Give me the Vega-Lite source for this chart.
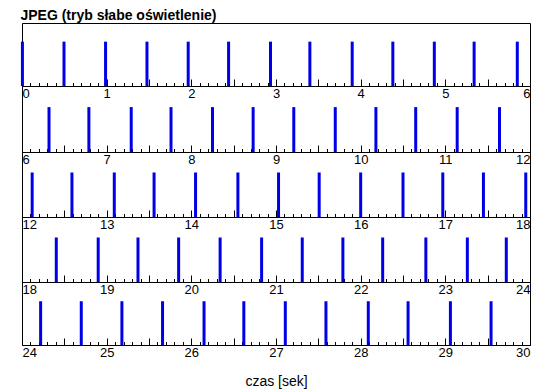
{
  "$schema": "https://vega.github.io/schema/vega-lite/v6.json",
  "padding": {"left": 20, "top": 8, "right": 10, "bottom": 5},
  "background": "white",
  "title": {"text": "JPEG (tryb słabe oświetlenie)", "anchor": "start", "font": "Liberation Sans", "fontSize": 14, "fontWeight": "bold", "color": "black", "offset": 0},
  "datasets": {
    "frames": [
      {"t": 0.005}, {"t": 0.496}, {"t": 0.987}, {"t": 1.476}, {"t": 1.963}, {"t": 2.44}, {"t": 2.935}, {"t": 3.40}, {"t": 3.90}, {"t": 4.38}, {"t": 4.87}, {"t": 5.34}, {"t": 5.85},
      {"t": 6.319}, {"t": 6.79}, {"t": 7.29}, {"t": 7.76}, {"t": 8.25}, {"t": 8.73}, {"t": 9.21}, {"t": 9.70}, {"t": 10.18}, {"t": 10.65}, {"t": 11.14}, {"t": 11.64},
      {"t": 12.12}, {"t": 12.59}, {"t": 13.09}, {"t": 13.56}, {"t": 14.05}, {"t": 14.55}, {"t": 15.03}, {"t": 15.51}, {"t": 16.00}, {"t": 16.50}, {"t": 16.97}, {"t": 17.45}, {"t": 17.95},
      {"t": 18.405}, {"t": 18.90}, {"t": 19.37}, {"t": 19.85}, {"t": 20.34}, {"t": 20.83}, {"t": 21.31}, {"t": 21.79}, {"t": 22.26}, {"t": 22.77}, {"t": 23.26}, {"t": 23.72},
      {"t": 24.22}, {"t": 24.70}, {"t": 25.18}, {"t": 25.66}, {"t": 26.15}, {"t": 26.62}, {"t": 27.11}, {"t": 27.59}, {"t": 28.09}, {"t": 28.56}, {"t": 29.06}, {"t": 29.54}
    ]
  },
  "data": {"name": "frames"},
  "spacing": 0,
  "bounds": "flush",
  "config": {
    "view": {"stroke": "black", "strokeWidth": 1},
    "axis": {"grid": false, "labelFont": "Liberation Sans", "labelFontSize": 13, "labelColor": "black", "domainColor": "black", "tickColor": "black", "titleFont": "Liberation Sans", "titleFontSize": 14, "titleFontWeight": "normal", "titleColor": "black"}
  },
  "vconcat": [
    {
      "width": 508, "height": 63,
      "transform": [{"filter": "datum.t >= 0 && datum.t < 6"}],
      "mark": {"type": "rule", "strokeWidth": 3, "color": "#0000e6"},
      "encoding": {
        "x": {"field": "t", "type": "quantitative", "scale": {"domain": [0, 6], "nice": false, "zero": false},
          "axis": {"title": null, "tickCount": 60, "labelFlush": true, "labelOverlap": false, "labelPadding": 8,
            "labelExpr": "abs(datum.value - round(datum.value)) < 0.001 ? toString(round(datum.value)) : ''",
            "tickSize": {"condition": {"test": "abs(datum.value*2 - round(datum.value*2)) < 0.001", "value": -7}, "value": -3.5}}},
        "y": {"datum": 0, "type": "quantitative", "scale": {"domain": [0, 1.42]}, "axis": null},
        "y2": {"datum": 1}
      }
    },
    {
      "width": 508, "height": 66,
      "transform": [{"filter": "datum.t >= 6 && datum.t < 12"}],
      "mark": {"type": "rule", "strokeWidth": 3, "color": "#0000e6"},
      "encoding": {
        "x": {"field": "t", "type": "quantitative", "scale": {"domain": [6, 12], "nice": false, "zero": false},
          "axis": {"title": null, "tickCount": 60, "labelFlush": true, "labelOverlap": false, "labelPadding": 8,
            "labelExpr": "abs(datum.value - round(datum.value)) < 0.001 ? toString(round(datum.value)) : ''",
            "tickSize": {"condition": {"test": "abs(datum.value*2 - round(datum.value*2)) < 0.001", "value": -7}, "value": -3.5}}},
        "y": {"datum": 0, "type": "quantitative", "scale": {"domain": [0, 1.47]}, "axis": null},
        "y2": {"datum": 1}
      }
    },
    {
      "width": 508, "height": 65,
      "transform": [{"filter": "datum.t >= 12 && datum.t < 18"}],
      "mark": {"type": "rule", "strokeWidth": 3, "color": "#0000e6"},
      "encoding": {
        "x": {"field": "t", "type": "quantitative", "scale": {"domain": [12, 18], "nice": false, "zero": false},
          "axis": {"title": null, "tickCount": 60, "labelFlush": true, "labelOverlap": false, "labelPadding": 8,
            "labelExpr": "abs(datum.value - round(datum.value)) < 0.001 ? toString(round(datum.value)) : ''",
            "tickSize": {"condition": {"test": "abs(datum.value*2 - round(datum.value*2)) < 0.001", "value": -7}, "value": -3.5}}},
        "y": {"datum": 0, "type": "quantitative", "scale": {"domain": [0, 1.46]}, "axis": null},
        "y2": {"datum": 1}
      }
    },
    {
      "width": 508, "height": 65,
      "transform": [{"filter": "datum.t >= 18 && datum.t < 24"}],
      "mark": {"type": "rule", "strokeWidth": 3, "color": "#0000e6"},
      "encoding": {
        "x": {"field": "t", "type": "quantitative", "scale": {"domain": [18, 24], "nice": false, "zero": false},
          "axis": {"title": null, "tickCount": 60, "labelFlush": true, "labelOverlap": false, "labelPadding": 8,
            "labelExpr": "abs(datum.value - round(datum.value)) < 0.001 ? toString(round(datum.value)) : ''",
            "tickSize": {"condition": {"test": "abs(datum.value*2 - round(datum.value*2)) < 0.001", "value": -7}, "value": -3.5}}},
        "y": {"datum": 0, "type": "quantitative", "scale": {"domain": [0, 1.46]}, "axis": null},
        "y2": {"datum": 1}
      }
    },
    {
      "width": 508, "height": 63,
      "transform": [{"filter": "datum.t >= 24 && datum.t <= 30"}],
      "mark": {"type": "rule", "strokeWidth": 3, "color": "#0000e6"},
      "encoding": {
        "x": {"field": "t", "type": "quantitative", "scale": {"domain": [24, 30], "nice": false, "zero": false},
          "axis": {"title": "czas [sek]", "titlePadding": 12, "tickCount": 60, "labelFlush": true, "labelOverlap": false, "labelPadding": 8,
            "labelExpr": "abs(datum.value - round(datum.value)) < 0.001 ? toString(round(datum.value)) : ''",
            "tickSize": {"condition": {"test": "abs(datum.value*2 - round(datum.value*2)) < 0.001", "value": -7}, "value": -3.5}}},
        "y": {"datum": 0, "type": "quantitative", "scale": {"domain": [0, 1.44]}, "axis": null},
        "y2": {"datum": 1}
      }
    }
  ]
}
